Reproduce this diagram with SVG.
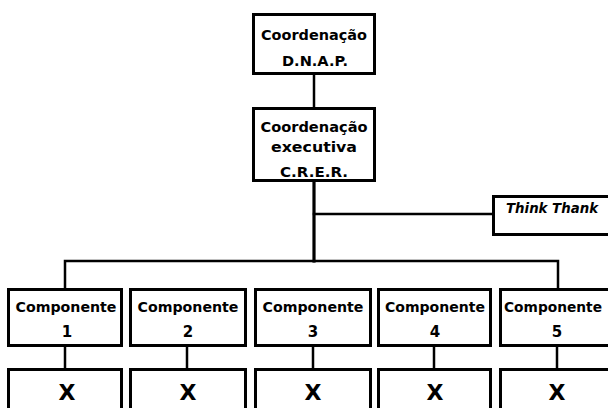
<svg xmlns="http://www.w3.org/2000/svg" width="608" height="408" viewBox="0 0 608 408">
  <style>
    .box { fill: #fff; stroke: #000; stroke-width: 3; }
    .wire { fill: none; stroke: #000; stroke-width: 2.5; stroke-linecap: square; }
    text { font-family: "DejaVu Sans", "Liberation Sans", Arial, sans-serif; font-weight: bold; fill: #000; text-anchor: middle; }
    .lbl { font-size: 14.5px; }
    .num { font-size: 15px; }
    .x { font-size: 22px; }
    .it { font-size: 14px; font-style: italic; }
  </style>
  <rect width="608" height="408" fill="#fff"/>

  <!-- connectors -->
  <g id="connectors">
    <line class="wire" x1="314" y1="75" x2="314" y2="107"/>
    <line class="wire" x1="314" y1="182" x2="314" y2="261" style="stroke-width:3.2"/>
    <line class="wire" x1="314" y1="214" x2="492" y2="214"/>
    <polyline class="wire" points="65,289 65,261 558,261 558,289"/>
    <line class="wire" x1="65" y1="346" x2="65" y2="368"/>
    <line class="wire" x1="187" y1="346" x2="187" y2="368"/>
    <line class="wire" x1="313" y1="346" x2="313" y2="368"/>
    <line class="wire" x1="434" y1="346" x2="434" y2="368"/>
    <line class="wire" x1="557" y1="346" x2="557" y2="368"/>
  </g>

  <!-- top coordination -->
  <g id="dnap">
    <rect class="box" x="253.5" y="14.5" width="121" height="59"/>
    <text class="lbl" x="314" y="40" textLength="106" lengthAdjust="spacingAndGlyphs">Coordenação</text>
    <text class="lbl" x="315" y="66" textLength="66" lengthAdjust="spacingAndGlyphs">D.N.A.P.</text>
  </g>

  <!-- executive coordination -->
  <g id="crer">
    <rect class="box" x="253.5" y="108.5" width="121" height="72"/>
    <text class="lbl" x="314" y="132" textLength="107" lengthAdjust="spacingAndGlyphs">Coordenação</text>
    <text class="lbl" x="314" y="152" textLength="86" lengthAdjust="spacingAndGlyphs">executiva</text>
    <text class="lbl" x="314" y="177" textLength="68" lengthAdjust="spacingAndGlyphs">C.R.E.R.</text>
  </g>

  <!-- think tank -->
  <g id="think">
    <rect class="box" x="493.5" y="196.5" width="130" height="38"/>
    <text class="it" x="552" y="213" textLength="92" lengthAdjust="spacingAndGlyphs">Think Thank</text>
  </g>

  <!-- components -->
  <g id="comp1">
    <rect class="box" x="8.5" y="289.5" width="113" height="56"/>
    <text class="lbl" x="66" y="312" textLength="101" lengthAdjust="spacingAndGlyphs">Componente</text>
    <text class="num" x="67" y="337">1</text>
  </g>
  <g id="comp2">
    <rect class="box" x="130.5" y="289.5" width="115" height="56"/>
    <text class="lbl" x="188" y="312" textLength="101" lengthAdjust="spacingAndGlyphs">Componente</text>
    <text class="num" x="188" y="337">2</text>
  </g>
  <g id="comp3">
    <rect class="box" x="255.5" y="289.5" width="115" height="56"/>
    <text class="lbl" x="313" y="312" textLength="101" lengthAdjust="spacingAndGlyphs">Componente</text>
    <text class="num" x="313" y="337">3</text>
  </g>
  <g id="comp4">
    <rect class="box" x="378.5" y="289.5" width="112" height="56"/>
    <text class="lbl" x="435" y="312" textLength="100" lengthAdjust="spacingAndGlyphs">Componente</text>
    <text class="num" x="435" y="337">4</text>
  </g>
  <g id="comp5">
    <rect class="box" x="500.5" y="289.5" width="120" height="56"/>
    <text class="lbl" x="553" y="312" style="font-size:14px" textLength="98" lengthAdjust="spacingAndGlyphs">Componente</text>
    <text class="num" x="557" y="337">5</text>
  </g>

  <!-- component contents -->
  <g id="x1">
    <rect class="box" x="8.5" y="369.5" width="113" height="60"/>
    <text class="x" x="67" y="400">X</text>
  </g>
  <g id="x2">
    <rect class="box" x="130.5" y="369.5" width="115" height="60"/>
    <text class="x" x="188" y="400">X</text>
  </g>
  <g id="x3">
    <rect class="box" x="255.5" y="369.5" width="115" height="60"/>
    <text class="x" x="313" y="400">X</text>
  </g>
  <g id="x4">
    <rect class="box" x="378.5" y="369.5" width="112" height="60"/>
    <text class="x" x="435" y="400">X</text>
  </g>
  <g id="x5">
    <rect class="box" x="500.5" y="369.5" width="120" height="60"/>
    <text class="x" x="557" y="400">X</text>
  </g>
</svg>
